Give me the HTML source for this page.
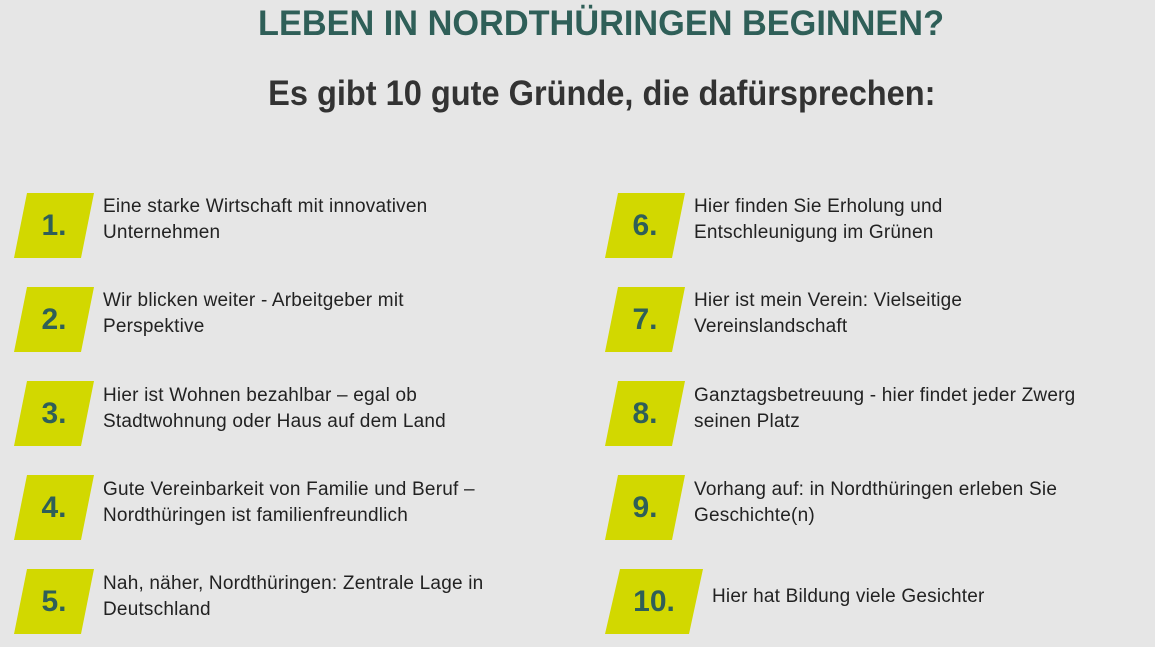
<!DOCTYPE html>
<html><head><meta charset="utf-8"><style>
body{margin:0;width:1155px;height:647px;background:#e6e6e6;font-family:"Liberation Sans",sans-serif;position:relative;overflow:hidden}
.t{position:absolute;left:24px;width:1155px;text-align:center;font-weight:bold;white-space:nowrap}
.t span{display:inline-block}
.s{position:absolute;width:80px;height:65px}
.s svg{position:absolute;left:0;top:0}
.n{position:absolute;left:0;top:0;width:80px;height:65px;line-height:65px;text-align:center;font-weight:bold;font-size:30px;color:#2f5f58}
.x{position:absolute;font-size:19px;letter-spacing:0.2px;line-height:26px;color:#222;white-space:nowrap}
</style></head><body>
<div class="t" style="top:4px;font-size:35px;color:#2f5f58"><span style="transform:scaleX(0.98)">LEBEN IN NORDTHÜRINGEN BEGINNEN?</span></div>
<div class="t" style="top:74px;font-size:35px;color:#333"><span style="transform:scaleX(0.93)">Es gibt 10 gute Gründe, die dafürsprechen:</span></div>

<div class="s" style="left:14px;top:193px"><svg width="80" height="66"><polygon points="13,0 80,0 67,65 0,65" fill="#d2d800"/></svg><div class="n">1.</div></div>
<div class="x" style="left:103px;top:194px">Eine starke Wirtschaft mit innovativen<br>Unternehmen</div>
<div class="s" style="left:14px;top:287px"><svg width="80" height="66"><polygon points="13,0 80,0 67,65 0,65" fill="#d2d800"/></svg><div class="n">2.</div></div>
<div class="x" style="left:103px;top:288px">Wir blicken weiter - Arbeitgeber mit<br>Perspektive</div>
<div class="s" style="left:14px;top:381px"><svg width="80" height="66"><polygon points="13,0 80,0 67,65 0,65" fill="#d2d800"/></svg><div class="n">3.</div></div>
<div class="x" style="left:103px;top:383px">Hier ist Wohnen bezahlbar – egal ob<br>Stadtwohnung oder Haus auf dem Land</div>
<div class="s" style="left:14px;top:475px"><svg width="80" height="66"><polygon points="13,0 80,0 67,65 0,65" fill="#d2d800"/></svg><div class="n">4.</div></div>
<div class="x" style="left:103px;top:477px">Gute Vereinbarkeit von Familie und Beruf –<br>Nordthüringen ist familienfreundlich</div>
<div class="s" style="left:14px;top:569px"><svg width="80" height="66"><polygon points="13,0 80,0 67,65 0,65" fill="#d2d800"/></svg><div class="n">5.</div></div>
<div class="x" style="left:103px;top:571px">Nah, näher, Nordthüringen: Zentrale Lage in<br>Deutschland</div>

<div class="s" style="left:605px;top:193px"><svg width="80" height="66"><polygon points="13,0 80,0 67,65 0,65" fill="#d2d800"/></svg><div class="n">6.</div></div>
<div class="x" style="left:694px;top:194px">Hier finden Sie Erholung und<br>Entschleunigung im Grünen</div>
<div class="s" style="left:605px;top:287px"><svg width="80" height="66"><polygon points="13,0 80,0 67,65 0,65" fill="#d2d800"/></svg><div class="n">7.</div></div>
<div class="x" style="left:694px;top:288px">Hier ist mein Verein: Vielseitige<br>Vereinslandschaft</div>
<div class="s" style="left:605px;top:381px"><svg width="80" height="66"><polygon points="13,0 80,0 67,65 0,65" fill="#d2d800"/></svg><div class="n">8.</div></div>
<div class="x" style="left:694px;top:383px">Ganztagsbetreuung - hier findet jeder Zwerg<br>seinen Platz</div>
<div class="s" style="left:605px;top:475px"><svg width="80" height="66"><polygon points="13,0 80,0 67,65 0,65" fill="#d2d800"/></svg><div class="n">9.</div></div>
<div class="x" style="left:694px;top:477px">Vorhang auf: in Nordthüringen erleben Sie<br>Geschichte(n)</div>
<div class="s" style="left:605px;top:569px;width:98px"><svg width="98" height="66"><polygon points="15,0 98,0 84,65 0,65" fill="#d2d800"/></svg><div class="n" style="width:98px">10.</div></div>
<div class="x" style="left:712px;top:584px">Hier hat Bildung viele Gesichter</div>
</body></html>
